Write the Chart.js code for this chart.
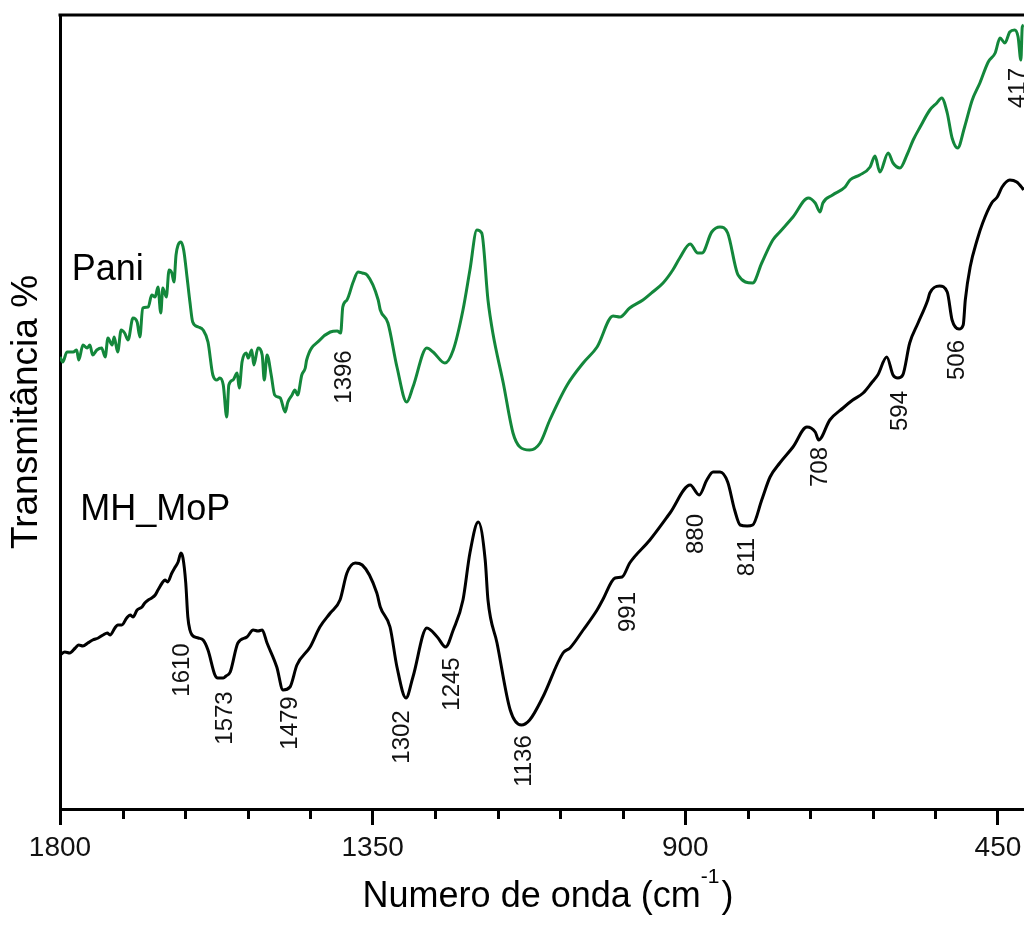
<!DOCTYPE html>
<html>
<head>
<meta charset="utf-8">
<script src="https://cdn.jsdelivr.net/npm/chart.js@4/dist/chart.umd.min.js"></script>
<style>
  html, body { margin: 0; padding: 0; background: #ffffff; }
  #wrap { width: 1024px; height: 928px; position: relative; }
</style>
</head>
<body>
<div id="wrap"><canvas id="ftir"></canvas></div>
<script>
// FTIR spectra: wavenumber (cm-1) and transmittance (arbitrary, offset units)
const paniWavenumber = [1800,1796,1790,1781,1776,1773,1767,1761,1757,1753,1747,1740,1735,1731,1725,1722,1717,1712,1707,1702,
  1695,1689,1685,1681,1673,1668,1663,1659,1655,1652,1647,1643,1639,1636,1633,1630,1626,1622,1617,1613,
  1609,1601,1594,1587,1580,1574,1570,1565,1560,1557,1551,1545,1542,1538,1532,1529,1524,1521,1515,1509,
  1506,1502,1496,1491,1483,1476,1472,1466,1462,1458,1452,1447,1445,1426,1411,1401,1396,1393,1387,1378,
  1371,1365,1358,1342,1339,1328,1315,1301,1292,1272,1263,1246,1234,1220,1210,1200,1193,1184,1177,1162,
  1148,1138,1124,1109,1095,1070,1047,1027,1004,994,980,961,947,932,918,908,893,882,876,862,
  850,839,824,803,790,774,764,745,723,713,706,702,688,670,663,649,634,627,620,608,
  601,591,581,572,562,548,538,531,523,516,508,498,487,476,464,454,447,440,433,426,
  421,417,415,413];
const paniTransmittance = [45.2,44.7,45.7,45.7,45.9,44.9,46.4,46.1,46.4,45.4,45.9,46.1,45.2,47.1,46.4,47.2,45.7,47.9,47.6,46.9,
  49.1,48.7,47.2,50.1,50.2,51.4,51.2,52.2,49.6,52.1,51.2,53.9,53.6,52.7,55.4,56.4,56.7,55.9,53.1,50.7,
  48.7,48.2,47.9,46.7,43.4,42.9,43.1,42.4,39.2,42.4,42.9,43.6,42.1,44.7,45.6,45.1,45.9,44.4,46.1,45.4,
  42.9,45.4,43.4,41.4,41.1,39.7,40.7,41.4,41.9,41.4,43.4,44.1,44.9,46.9,47.7,47.8,47.6,50.2,50.9,52.7,
  53.7,53.6,53.4,50.9,49.9,48.6,44.2,40.7,42.2,46.1,45.7,44.6,45.9,49.9,53.9,57.9,57.6,50.9,47.6,42.6,
  37.6,36.2,35.9,36.6,38.9,42.4,44.6,46.2,49.3,49.2,50.1,50.9,51.7,52.6,53.9,55.1,56.5,55.6,55.6,57.7,
  58.2,57.6,53.4,52.6,54.6,56.9,57.7,59.2,61.1,60.6,59.7,60.6,61.4,62.2,62.9,63.4,64.2,65.3,63.7,65.6,
  64.6,64.1,65.4,66.9,68.2,69.9,70.6,71.1,69.6,67.1,66.1,68.2,70.9,72.6,74.7,75.6,77.1,76.6,77.7,77.9,
  77.2,74.9,78.2,78.4];

const mhMoPWavenumber = [1800,1793,1786,1778,1773,1767,1760,1753,1745,1738,1732,1728,1721,1717,1711,1704,1699,1695,1689,1682,
  1678,1673,1668,1663,1659,1653,1649,1645,1639,1635,1630,1626,1623,1619,1616,1613,1610,1601,1594,1587,
  1577,1573,1565,1561,1555,1544,1531,1522,1515,1509,1502,1488,1479,1469,1459,1440,1426,1411,1397,1387,
  1375,1365,1344,1339,1325,1315,1302,1292,1272,1257,1245,1234,1220,1210,1198,1188,1184,1171,1152,1136,
  1124,1105,1076,1066,1047,1027,1019,1001,991,980,951,922,893,880,869,860,850,839,829,821,
  811,803,790,778,764,745,725,713,708,692,673,659,644,631,623,610,601,594,587,577,
  565,551,548,534,523,516,506,500,497,490,480,472,459,451,444,433,423,415,413];
const mhMoPTransmittance = [15.4,15.7,15.6,16.1,16.4,16.3,16.6,16.9,17.1,17.4,17.6,17.4,18.1,18.4,18.4,19.1,19.4,19.2,19.9,20.2,
  20.6,20.9,21.1,21.4,21.9,22.6,22.9,22.7,23.6,24.1,24.7,25.6,25.1,22.6,19.2,17.9,17.4,17.1,16.9,15.9,
  13.4,13.1,13.1,13.3,13.7,16.6,17.2,17.9,17.8,17.9,16.6,14.2,11.9,12.2,14.4,16.2,18.2,19.6,20.9,23.6,
  24.6,24.4,21.6,20.2,18.2,14.2,11.1,13.2,18.1,17.2,16.2,17.9,20.9,25.6,28.7,24.9,20.9,16.6,9.9,8.4,
  8.9,11.2,15.6,16.1,17.9,19.9,20.9,23.1,23.2,24.6,26.9,29.6,32.4,31.4,32.9,33.7,33.7,32.7,29.9,28.4,
  28.3,28.4,30.9,33.2,34.6,36.2,38.2,37.7,36.9,38.9,40.1,40.9,41.6,42.7,43.4,45.2,43.4,43.1,43.4,46.6,
  48.6,50.9,51.6,52.3,51.7,48.9,48.0,48.4,50.9,54.2,56.9,58.6,60.6,61.2,62.2,62.9,62.7,62.1,61.9];

// Axis ticks (every 90 cm-1, labelled every 450 cm-1)
const xTickValues = [1800,1710,1620,1530,1440,1350,1260,1170,1080,990,900,810,720,630,540,450];
const xTickLabels = ['1800','1350','900','450'];

// Band assignments marked on each spectrum
const mhMoPBands = [1610,1573,1479,1302,1245,1136,991,880,811,708,594,506];
const paniBands = [1396,417];

// Where each band label sits: [horizontal nudge in px, vertical centre in data units]
const bandLabelPlacement = {
  1610: [-10, 13.9], 1573: [8, 9.1], 1479: [7, 8.6], 1302: [-4, 7.2], 1245: [7, 12.5],
  1136: [3, 4.8], 991: [6, 19.7], 880: [-3, 27.5], 811: [0, 25.2], 708: [2, 34.2],
  594: [2, 39.8], 506: [-2, 44.9], 1396: [4, 43.2], 417: [-2, 72.1]
};

const FONT = '"Liberation Sans", Arial, Helvetica, sans-serif';
const GREEN = '#13873b';

const toPoints = (xs, ys) => xs.map((x, i) => ({ x: x, y: ys[i] }));

const frameAndLabels = {
  id: 'frameAndLabels',
  afterDatasetsDraw(chart) {
    const { ctx, scales: { x, y } } = chart;
    ctx.save();
    ctx.fillStyle = '#111';
    ctx.font = '24px ' + FONT;
    ctx.textAlign = 'center';
    ctx.textBaseline = 'middle';
    const drawBand = (v) => {
      const p = bandLabelPlacement[v];
      const cx = x.getPixelForValue(v) + p[0];
      const cy = y.getPixelForValue(p[1]);
      ctx.save();
      ctx.translate(cx, cy);
      ctx.rotate(-Math.PI / 2);
      ctx.fillText(String(v), 0, 0);
      ctx.restore();
    };
    mhMoPBands.forEach(drawBand);
    paniBands.forEach(drawBand);

    // series names
    ctx.font = '36px ' + FONT;
    ctx.textAlign = 'left';
    ctx.textBaseline = 'alphabetic';
    ctx.fillStyle = '#000';
    ctx.fillText('Pani', x.getPixelForValue(1783), y.getPixelForValue(52.9));
    ctx.fillText('MH_MoP', x.getPixelForValue(1771), y.getPixelForValue(28.9));
    ctx.restore();
  },
  afterDraw(chart) {
    const { ctx, chartArea, scales: { x } } = chart;
    ctx.save();
    ctx.strokeStyle = '#000';
    ctx.lineWidth = 3;
    // top frame line
    ctx.beginPath();
    ctx.moveTo(chartArea.left - 1.5, chartArea.top);
    ctx.lineTo(chartArea.right + 2, chartArea.top);
    ctx.stroke();
    // minor ticks
    ctx.beginPath();
    xTickValues.forEach(v => {
      if (xTickLabels.includes(String(v))) return;
      const px = Math.round(x.getPixelForValue(v)) + 0.5;
      ctx.moveTo(px, chartArea.bottom);
      ctx.lineTo(px, chartArea.bottom + 10);
    });
    ctx.stroke();

    // x axis title with superscript
    ctx.fillStyle = '#000';
    ctx.textBaseline = 'alphabetic';
    ctx.textAlign = 'left';
    const main = 'Numero de onda (cm';
    const sup = '-1';
    const close = ')';
    ctx.font = '36px ' + FONT;
    const wMain = ctx.measureText(main).width;
    const wClose = ctx.measureText(close).width;
    ctx.font = '21px ' + FONT;
    const wSup = ctx.measureText(sup).width;
    const total = wMain + wSup + 2 + wClose;
    const cx = (chartArea.left + chartArea.right) / 2 + 6;
    const base = chartArea.bottom + 98;
    let xx = cx - total / 2;
    ctx.font = '36px ' + FONT;
    ctx.fillText(main, xx, base);
    xx += wMain;
    ctx.font = '21px ' + FONT;
    ctx.fillText(sup, xx, base - 24);
    xx += wSup + 2;
    ctx.font = '36px ' + FONT;
    ctx.fillText(close, xx, base);
    ctx.restore();
  }
};

new Chart(document.getElementById('ftir'), {
  type: 'line',
  data: {
    datasets: [
      {
        label: 'Pani',
        data: toPoints(paniWavenumber, paniTransmittance),
        borderColor: GREEN,
        borderWidth: 3,
        pointRadius: 0,
        cubicInterpolationMode: 'monotone',
        fill: false
      },
      {
        label: 'MH_MoP',
        data: toPoints(mhMoPWavenumber, mhMoPTransmittance),
        borderColor: '#000000',
        borderWidth: 3,
        pointRadius: 0,
        cubicInterpolationMode: 'monotone',
        fill: false
      }
    ]
  },
  options: {
    responsive: true,
    maintainAspectRatio: false,
    animation: false,
    layout: { padding: { top: 15, right: 0, left: 0, bottom: 0 } },
    plugins: { legend: { display: false }, tooltip: { enabled: false } },
    scales: {
      x: {
        type: 'linear',
        reverse: true,
        min: 412.5,
        max: 1800,
        afterBuildTicks(scale) {
          scale.ticks = xTickValues.slice().sort((a, b) => a - b).map(v => ({ value: v }));
        },
        afterFit(scale) { scale.height = 119; },
        ticks: {
          autoSkip: false,
          maxRotation: 0,
          padding: 6,
          color: '#111',
          font: { family: FONT, size: 28 },
          callback: (v) => xTickLabels.includes(String(v)) ? String(v) : ''
        },
        grid: {
          display: true,
          drawOnChartArea: false,
          drawTicks: true,
          tickLength: 16,
          tickWidth: 3,
          tickColor: (c) => (c.tick && xTickLabels.includes(String(c.tick.value))) ? '#000' : 'rgba(0,0,0,0)'
        },
        border: { display: true, color: '#000', width: 3 },
        title: { display: false }
      },
      y: {
        type: 'linear',
        min: 0,
        max: 79.4,
        afterFit(scale) { scale.width = 60; },
        ticks: { display: false },
        grid: { display: false },
        border: { display: true, color: '#000', width: 3 },
        title: {
          display: true,
          text: 'Transmitância %',
          color: '#000',
          font: { family: FONT, size: 37, lineHeight: 1.2 },
          padding: { top: 5, bottom: 0 }
        }
      }
    }
  },
  plugins: [frameAndLabels]
});
</script>
</body>
</html>
